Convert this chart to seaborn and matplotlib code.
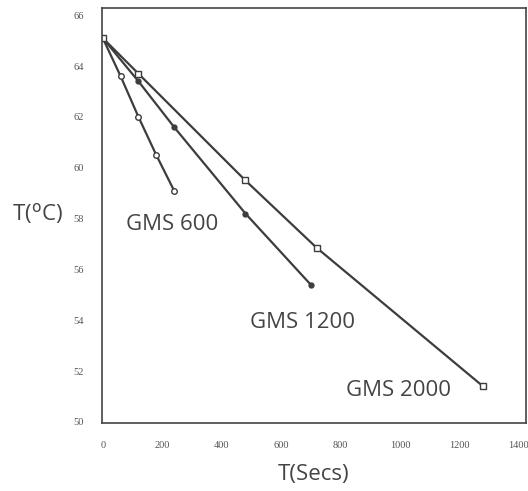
import matplotlib
matplotlib.use("Agg")
import matplotlib.pyplot as plt
import seaborn as sns
import pandas as pd

# Data
t_600 = [0, 60, 120, 180, 240]
T_600 = [65.1, 63.6, 62.0, 60.5, 59.1]
t_1200 = [0, 120, 240, 480, 700]
T_1200 = [65.1, 63.4, 61.6, 58.2, 55.4]
t_2000 = [0, 120, 480, 720, 1280]
T_2000 = [65.1, 63.7, 59.5, 56.85, 51.4]

series_names = ["GMS 600", "GMS 1200", "GMS 2000"]
label_pos = [(233, 57.77), (671, 53.91), (995, 51.24)]
x_ticks = [0, 200, 400, 600, 800, 1000, 1200, 1400]
y_ticks = [50, 52, 54, 56, 58, 60, 62, 64, 66]

df = pd.concat([
    pd.DataFrame({"t": t_600, "T": T_600, "series": "GMS 600"}),
    pd.DataFrame({"t": t_1200, "T": T_1200, "series": "GMS 1200"}),
    pd.DataFrame({"t": t_2000, "T": T_2000, "series": "GMS 2000"}),
])

sns.set_style("white")
fig = plt.figure(figsize=(5.28, 4.91), dpi=100)
ax = fig.add_axes([0.193, 0.1385, 0.803, 0.845])

line_color = "#3d3d3d"
styles = {
    "GMS 600": dict(marker="o", mfc="white", ms=4),
    "GMS 1200": dict(marker="o", mfc=line_color, ms=3.5),
    "GMS 2000": dict(marker="s", mfc="white", ms=4),
}
for name in series_names:
    sub = df[df["series"] == name]
    st = styles[name]
    sns.lineplot(data=sub, x="t", y="T", ax=ax, color=line_color, lw=1.6,
                 marker=st["marker"], markerfacecolor=st["mfc"],
                 markeredgecolor=line_color, markersize=st["ms"],
                 markeredgewidth=1.0, estimator=None, sort=False)

for name, (lx, ly) in zip(series_names, label_pos):
    ax.text(lx, ly, name, ha="center", va="center", fontsize=16,
            color="#444444", family="Open Sans")

ax.set_xlim(-3, 1424)
ax.set_ylim(49.96, 66.28)
ax.set_xticks(x_ticks)
ax.set_yticks(y_ticks)
ax.tick_params(length=0, labelsize=7.5, colors="#555555", pad=13)
for lab in ax.get_xticklabels() + ax.get_yticklabels():
    lab.set_family("Liberation Serif")
ax.set_xlabel("T(Secs)", fontsize=16, color="#444444", family="Open Sans",
              va="center", ha="center")
ax.set_ylabel("T($^{\\rm o}$C)", fontsize=16, color="#444444", family="Open Sans",
              rotation=0, ha="center", va="center")
ax.xaxis.set_label_coords(0.5, -0.123)
ax.yaxis.set_label_coords(-0.153, 0.506)
for sp in ax.spines.values():
    sp.set_color("#444444")
    sp.set_linewidth(1.2)

fig.savefig("out.png", dpi=100)
